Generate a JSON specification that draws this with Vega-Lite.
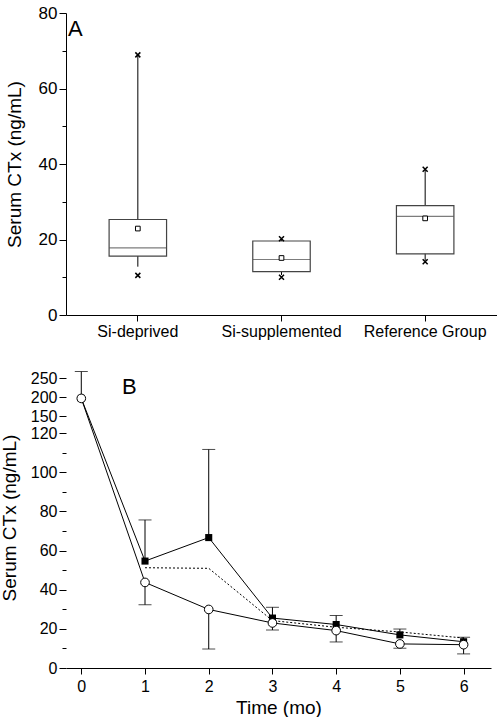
{
  "$schema": "https://vega.github.io/schema/vega-lite/v6.json",
  "padding": {"left": 0, "top": 4, "right": 0, "bottom": 0},
  "spacing": 28,
  "config": {
    "font": "Liberation Sans",
    "view": {"stroke": null},
    "axis": {"grid": false, "domainColor": "black", "tickColor": "black", "labelColor": "black", "titleColor": "black", "labelFontSize": 16, "titleFontSize": 19, "titleFontWeight": "normal", "labelFont": "Liberation Sans", "titleFont": "Liberation Sans", "labelOverlap": false}
  },
  "datasets": {
    "boxes": [
      {"group": "Si-deprived", "min": 10.5, "wlo": 12.8, "q1": 15.6, "median": 17.8, "q3": 25.3, "whi": 68.9, "max": 68.9, "mean": 22.9},
      {"group": "Si-supplemented", "min": 10.0, "wlo": 10.6, "q1": 11.5, "median": 14.7, "q3": 19.6, "whi": 20.2, "max": 20.2, "mean": 15.1},
      {"group": "Reference Group", "min": 14.1, "wlo": 14.4, "q1": 16.2, "median": 26.1, "q3": 29.0, "whi": 38.6, "max": 38.6, "mean": 25.6}
    ],
    "series": [
      {"t": 0, "series": "deprived", "v": 197, "hi": 267.8},
      {"t": 1, "series": "deprived", "v": 54.6, "hi": 75.6},
      {"t": 2, "series": "deprived", "v": 66.6, "hi": 111.6},
      {"t": 3, "series": "deprived", "v": 25.5, "hi": 31.0},
      {"t": 4, "series": "deprived", "v": 22.2, "hi": 26.8},
      {"t": 5, "series": "deprived", "v": 16.9, "hi": 19.9},
      {"t": 6, "series": "deprived", "v": 13.4, "hi": 15.7},
      {"t": 0, "series": "supplemented", "v": 197},
      {"t": 1, "series": "supplemented", "v": 43.7, "lo": 32.3},
      {"t": 2, "series": "supplemented", "v": 29.9, "lo": 9.7},
      {"t": 3, "series": "supplemented", "v": 23.0, "lo": 19.4},
      {"t": 4, "series": "supplemented", "v": 19.1, "lo": 13.3},
      {"t": 5, "series": "supplemented", "v": 12.3, "lo": 10.1},
      {"t": 6, "series": "supplemented", "v": 11.9, "lo": 7.2},
      {"t": 1, "series": "reference", "v": 51.2},
      {"t": 2, "series": "reference", "v": 50.9},
      {"t": 3, "series": "reference", "v": 24.2},
      {"t": 4, "series": "reference", "v": 20.8},
      {"t": 5, "series": "reference", "v": 18.4},
      {"t": 6, "series": "reference", "v": 15.3}
    ]
  },
  "vconcat": [
    {
      "width": 431,
      "height": 302,
      "title": {"text": "A", "anchor": "start", "frame": "group", "orient": "top", "fontSize": 22, "fontWeight": "normal", "font": "Liberation Sans", "color": "black", "offset": -37, "dx": 2},
      "data": {"name": "boxes"},
      "resolve": {"axis": {"y": "independent"}},
      "encoding": {
        "x": {"field": "group", "type": "nominal", "sort": null, "scale": {"paddingInner": 0.6, "paddingOuter": 0.3},
          "axis": {"title": null, "labelAngle": 0, "tickSize": 6, "labelPadding": 2, "domain": true}}
      },
      "layer": [
        {
          "mark": {"type": "rule", "color": "black", "strokeWidth": 1},
          "encoding": {
            "y": {"field": "wlo", "type": "quantitative", "scale": {"domain": [0, 80], "nice": false},
              "axis": {"orient": "left", "title": "Serum CTx (ng/mL)", "values": [0, 20, 40, 60, 80],
                "tickSize": 7, "labelPadding": 2, "titlePadding": 14, "labelFontSize": 17}},
            "y2": {"field": "whi"}
          }
        },
        {
          "mark": {"type": "tick", "opacity": 0},
          "encoding": {"y": {"field": "q1", "type": "quantitative",
            "axis": {"orient": "left", "title": null, "values": [10, 30, 50, 70], "labels": false, "domain": false, "tickSize": 4}}}
        },
        {
          "mark": {"type": "bar", "fill": "white", "stroke": "#444", "strokeWidth": 1.2},
          "encoding": {"y": {"field": "q1", "type": "quantitative", "axis": null}, "y2": {"field": "q3"}}
        },
        {
          "mark": {"type": "tick", "orient": "horizontal", "color": "#444", "size": 57, "thickness": 1.2},
          "encoding": {"y": {"field": "median", "type": "quantitative", "axis": null}}
        },
        {
          "mark": {"type": "square", "size": 22, "fill": "white", "stroke": "black", "strokeWidth": 1, "opacity": 1},
          "encoding": {"y": {"field": "mean", "type": "quantitative", "axis": null}}
        },
        {
          "mark": {"type": "point", "shape": "M-1,-1L1,1M-1,1L1,-1", "size": 25, "filled": false, "color": "black", "strokeWidth": 1.5, "opacity": 1},
          "encoding": {"y": {"field": "min", "type": "quantitative", "axis": null}}
        },
        {
          "mark": {"type": "point", "shape": "M-1,-1L1,1M-1,1L1,-1", "size": 25, "filled": false, "color": "black", "strokeWidth": 1.5, "opacity": 1},
          "encoding": {"y": {"field": "max", "type": "quantitative", "axis": null}}
        }
      ]
    },
    {
      "width": 425,
      "height": 301,
      "title": {"text": "B", "anchor": "start", "frame": "group", "orient": "top", "fontSize": 22, "fontWeight": "normal", "font": "Liberation Sans", "color": "black", "offset": -32, "dx": 56},
      "data": {"name": "series"},
      "resolve": {"axis": {"y": "independent"}},
      "encoding": {
        "x": {"field": "t", "type": "quantitative", "scale": {"domain": [-0.24, 6.43], "nice": false, "zero": false},
          "axis": {"title": "Time (mo)", "values": [0, 1, 2, 3, 4, 5, 6], "format": "d", "tickSize": 6, "labelPadding": 4, "titlePadding": 4}}
      },
      "layer": [
        {
          "transform": [{"filter": "datum.series === 'reference'"}],
          "mark": {"type": "line", "color": "black", "strokeWidth": 1, "strokeDash": [2, 2]},
          "encoding": {
            "y": {"field": "v", "type": "quantitative",
              "scale": {"domain": [0, 120, 132, 280], "range": [301, 66, 56, 0], "nice": false, "zero": false},
              "axis": {"orient": "left", "title": "Serum CTx (ng/mL)", "domain": false,
                "values": [0, 20, 40, 60, 80, 100, 120, 150, 200, 250],
                "tickSize": 7, "labelPadding": 2, "titlePadding": 11, "labelFontSize": 16, "labelOverlap": false}}
          }
        },
        {
          "transform": [{"filter": "datum.series !== 'reference'"}],
          "mark": {"type": "line", "color": "black", "strokeWidth": 1},
          "encoding": {"y": {"field": "v", "type": "quantitative",
            "axis": {"orient": "left", "title": null, "values": [10, 30, 50, 70, 90, 110], "labels": false, "domain": false, "tickSize": 4}},
            "detail": {"field": "series"}}
        },
        {
          "transform": [{"filter": "datum.series === 'deprived'"}],
          "mark": {"type": "rule", "color": "black", "strokeWidth": 1},
          "encoding": {"y": {"field": "v", "type": "quantitative", "axis": null}, "y2": {"field": "hi"}}
        },
        {
          "transform": [{"filter": "datum.series === 'deprived'"}],
          "mark": {"type": "tick", "orient": "horizontal", "color": "black", "size": 13, "thickness": 1},
          "encoding": {"y": {"field": "hi", "type": "quantitative", "axis": null}}
        },
        {
          "transform": [{"filter": "datum.series === 'supplemented' && isValid(datum.lo)"}],
          "mark": {"type": "rule", "color": "black", "strokeWidth": 1},
          "encoding": {"y": {"field": "lo", "type": "quantitative", "axis": null}, "y2": {"field": "v"}}
        },
        {
          "transform": [{"filter": "datum.series === 'supplemented' && isValid(datum.lo)"}],
          "mark": {"type": "tick", "orient": "horizontal", "color": "black", "size": 13, "thickness": 1},
          "encoding": {"y": {"field": "lo", "type": "quantitative", "axis": null}}
        },
        {
          "transform": [{"filter": "datum.series === 'deprived'"}],
          "mark": {"type": "square", "size": 50, "color": "black", "opacity": 1},
          "encoding": {"y": {"field": "v", "type": "quantitative", "axis": null}}
        },
        {
          "transform": [{"filter": "datum.series === 'supplemented'"}],
          "mark": {"type": "point", "shape": "circle", "size": 75, "filled": true, "fill": "white", "stroke": "black", "strokeWidth": 1, "opacity": 1},
          "encoding": {"y": {"field": "v", "type": "quantitative", "axis": null}}
        },
        {
          "data": {"values": [{}]},
          "mark": {"type": "rule", "color": "black", "strokeWidth": 1},
          "encoding": {"x": {"datum": -0.24}, "y": {"datum": 0, "axis": null}, "y2": {"datum": 120}}
        },
        {
          "data": {"values": [{}]},
          "mark": {"type": "rule", "color": "black", "strokeWidth": 1},
          "encoding": {"x": {"datum": -0.24}, "y": {"datum": 132, "axis": null}, "y2": {"datum": 280}}
        },
        {
          "data": {"values": [{}]},
          "mark": {"type": "rule", "color": "black", "strokeWidth": 1},
          "encoding": {"x": {"datum": -0.34}, "x2": {"datum": -0.15}, "y": {"datum": 124.7, "axis": null}, "y2": {"datum": 133}}
        },
        {
          "data": {"values": [{}]},
          "mark": {"type": "rule", "color": "black", "strokeWidth": 1},
          "encoding": {"x": {"datum": -0.34}, "x2": {"datum": -0.15}, "y": {"datum": 119.3, "axis": null}, "y2": {"datum": 125.4}}
        }
      ]
    }
  ]
}
